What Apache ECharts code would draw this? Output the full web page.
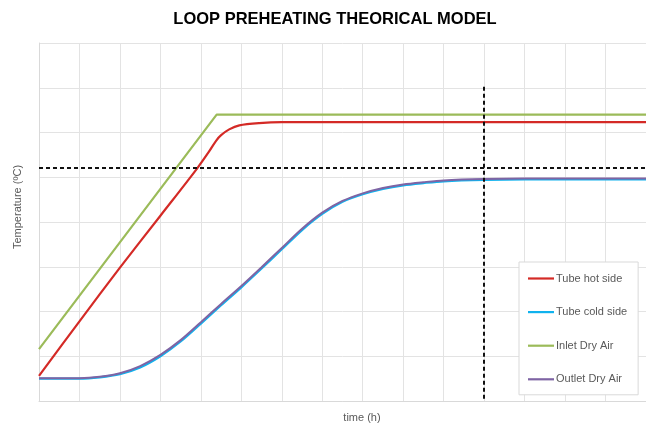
<!DOCTYPE html>
<html>
<head>
<meta charset="utf-8">
<script src="https://cdn.jsdelivr.net/npm/echarts@6/dist/echarts.min.js"></script>
<style>
  html, body { margin: 0; padding: 0; background: #fff; }
  #loopChart { width: 646px; height: 425px; }
</style>
</head>
<body>
<div id="loopChart"></div>
<script>
// values, in grid units (no tick labels on the original)
const seriesNames = ['Tube hot side', 'Tube cold side', 'Inlet Dry Air', 'Outlet Dry Air'];

const hotTime = [0, 1, 2, 3, 3.91, 4.2, 4.38, 4.5, 4.7, 4.95, 5.44, 6, 8, 10, 12, 15];
const hotSide = [0.56, 1.78, 2.98, 4.14, 5.2, 5.57, 5.82, 5.94, 6.07, 6.16, 6.21, 6.23, 6.23, 6.23, 6.23, 6.23];

const inletTime = [0, 4.39, 15];
const inletAir = [1.16, 6.4, 6.4];

const coolTime = [0, 0.5, 1, 1.5, 2, 2.5, 3, 3.5, 4, 4.5, 5, 5.5, 6, 6.5, 7, 7.5, 8, 8.5, 9, 9.5, 10, 11, 12, 13, 14, 15];
const outletAir = [0.51, 0.51, 0.51, 0.54, 0.62, 0.78, 1.03, 1.36, 1.76, 2.17, 2.57, 2.99, 3.42, 3.85, 4.21, 4.47, 4.64, 4.76, 4.84, 4.89, 4.93, 4.96, 4.97, 4.97, 4.97, 4.97];
const coldSide = [0.5, 0.5, 0.5, 0.53, 0.6, 0.75, 1.0, 1.33, 1.73, 2.14, 2.54, 2.96, 3.39, 3.82, 4.18, 4.45, 4.62, 4.74, 4.82, 4.87, 4.91, 4.94, 4.95, 4.95, 4.95, 4.95];

// dashed reference lines
const refTemp = 5.22;
const refTime = 11;
const refTop = 7.02;

function pairs(xs, ys) {
  return xs.map((x, i) => [x, ys[i]]);
}

const myChart = echarts.init(document.getElementById('loopChart'), null, { renderer: 'canvas' });
const font = '"Liberation Sans", Arial, sans-serif';

myChart.setOption({
  animation: false,
  textStyle: { fontFamily: font },
  graphic: [
    {
      type: 'text', x: 335, y: 19,
      style: { text: 'LOOP PREHEATING THEORICAL MODEL', font: 'bold 16.5px ' + font, fill: '#000', align: 'center', verticalAlign: 'middle' }
    },
    {
      type: 'text', x: 362, y: 418,
      style: { text: 'time (h)', font: '11px ' + font, fill: '#595959', align: 'center', verticalAlign: 'middle' }
    },
    {
      type: 'text', x: 18, y: 207, rotation: Math.PI / 2,
      style: { text: 'Temperature (ºC)', font: '11px ' + font, fill: '#595959', align: 'center', verticalAlign: 'middle' }
    }
  ],
  grid: { left: 39, top: 43, width: 609, height: 358 },
  legend: {
    data: seriesNames,
    orient: 'vertical',
    left: 519,
    top: 262,
    icon: 'rect',
    itemWidth: 26,
    itemHeight: 2.2,
    itemGap: 22.6,
    padding: [11, 11, 10, 9],
    backgroundColor: '#fff',
    borderColor: '#d9d9d9',
    borderWidth: 1,
    textStyle: { color: '#595959', fontSize: 11, fontFamily: font, padding: [0, 0, 0, -3] }
  },
  xAxis: {
    type: 'value',
    min: 0,
    max: 15,
    interval: 1,
    axisLine: { lineStyle: { color: '#d9d9d9' } },
    axisTick: { show: false },
    axisLabel: { show: false },
    splitLine: { lineStyle: { color: '#e3e3e3', width: 1 } }
  },
  yAxis: {
    type: 'value',
    min: 0,
    max: 8,
    interval: 1,
    axisLine: { show: true, lineStyle: { color: '#d9d9d9' } },
    axisTick: { show: false },
    axisLabel: { show: false },
    splitLine: { lineStyle: { color: '#e3e3e3', width: 1 } }
  },
  series: [
    {
      name: 'Tube hot side',
      type: 'line',
      data: pairs(hotTime, hotSide),
      smooth: 0.3,
      symbol: 'none',
      itemStyle: { color: '#d42a26' },
      lineStyle: { width: 2.2, color: '#d42a26' }
    },
    {
      name: 'Tube cold side',
      type: 'line',
      data: pairs(coolTime, coldSide),
      smooth: 0.3,
      symbol: 'none',
      itemStyle: { color: '#10b2ee' },
      lineStyle: { width: 2.2, color: '#10b2ee' }
    },
    {
      name: 'Inlet Dry Air',
      type: 'line',
      data: pairs(inletTime, inletAir),
      symbol: 'none',
      itemStyle: { color: '#9bbb59' },
      lineStyle: { width: 2.2, color: '#9bbb59' }
    },
    {
      name: 'Outlet Dry Air',
      type: 'line',
      data: pairs(coolTime, outletAir),
      smooth: 0.3,
      symbol: 'none',
      itemStyle: { color: '#7e64a4' },
      lineStyle: { width: 2, color: '#7e64a4' },
      markLine: {
        silent: true,
        symbol: 'none',
        label: { show: false },
        lineStyle: { type: [4, 3], color: '#111', width: 2 },
        data: [
          [{ coord: [0, refTemp] }, { coord: [15, refTemp] }],
          [{ coord: [refTime, refTop] }, { coord: [refTime, 0] }]
        ]
      }
    }
  ]
});

window.addEventListener('resize', () => {
  myChart.resize();
});
</script>
</body>
</html>
